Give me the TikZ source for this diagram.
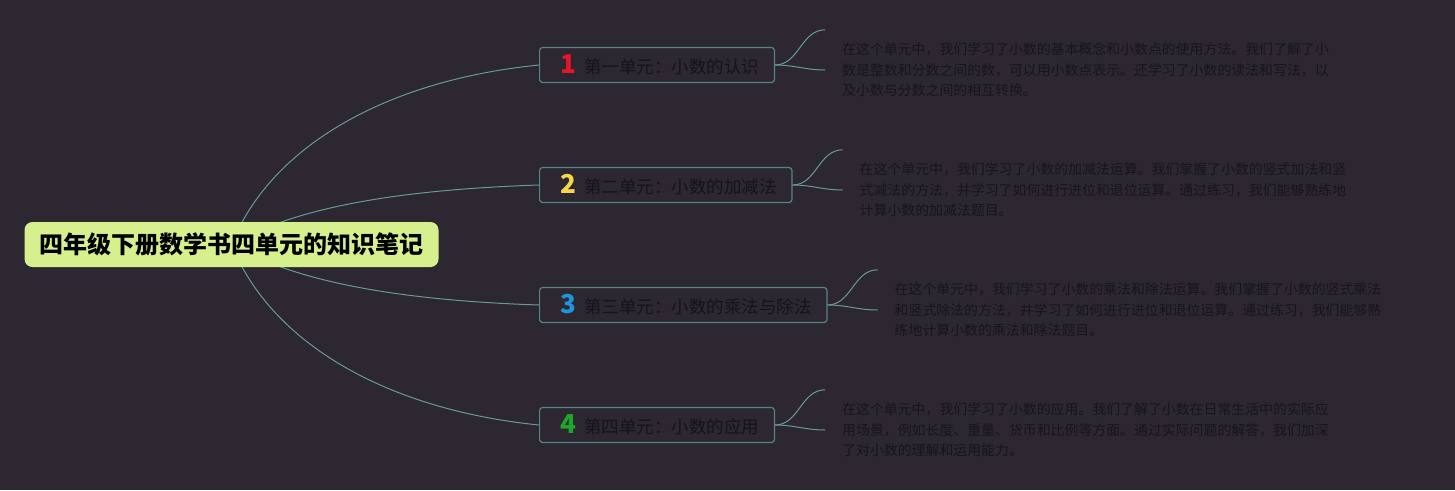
\documentclass[tikz,border=0pt]{standalone}
\usepackage{fontspec}
\setmainfont{Noto Sans CJK SC}
\usepackage{tikz}
\usetikzlibrary{positioning}

\definecolor{mapbg}{RGB}{44,39,49}
\definecolor{rootfill}{RGB}{214,240,142}
\definecolor{unitline}{RGB}{86,132,132}
\definecolor{linkcol}{RGB}{104,154,154}
\definecolor{unittext}{RGB}{22,20,24}
\definecolor{notetext}{RGB}{24,21,27}
\definecolor{numred}{RGB}{232,20,42}
\definecolor{numyellow}{RGB}{246,214,76}
\definecolor{numblue}{RGB}{30,150,222}
\definecolor{numgreen}{RGB}{30,168,42}

\newcommand\unitnum[2]{{\color{#1}\fontsize{26}{26}\selectfont\bfseries #2}}

\pgfdeclarelayer{bg}
\pgfdeclarelayer{edges}
\pgfsetlayers{bg,edges,main}

\begin{document}
\begin{tikzpicture}[x=1pt, y=-1pt,
    root/.style={fill=rootfill, rounded corners=8pt, minimum height=45pt, inner xsep=15pt, inner ysep=0pt,
      text height=22pt, text depth=4pt, font=\fontsize{24}{24}\selectfont\bfseries, text=black},
    unit/.style={draw=unitline, line width=1.2pt, rounded corners=3pt, fill=mapbg, anchor=west,
      minimum height=35pt, inner xsep=15pt, inner ysep=0pt, text height=18pt, text depth=2pt,
      font=\fontsize{17.5}{17.5}\selectfont, text=unittext},
    note/.style={align=left, minimum height=80pt, inner xsep=17pt, inner ysep=0pt,
      font=\fontsize{13.9}{20.5}\selectfont, text=notetext},
    link/.style={draw=linkcol, line width=1pt}
  ]
            \useasboundingbox (0,0) rectangle (1455,490);
            \begin{pgfonlayer}{bg}
                \fill[mapbg] (0,0) rectangle (1455,490);
            \end{pgfonlayer}

            \node [root] (root) at (231.5,244.5) {四年级下册数学书四单元的知识笔记};

            \node [unit] (u1) at (539,65) {\hspace{6pt}\unitnum{numred}{1}\hspace{8pt}第一单元：小数的认识};
            \node [unit] (u2) at (539,185) {\hspace{6pt}\unitnum{numyellow}{2}\hspace{8pt}第二单元：小数的加减法};
            \node [unit] (u3) at (539,305) {\hspace{6pt}\unitnum{numblue}{3}\hspace{8pt}第三单元：小数的乘法与除法};
            \node [unit] (u4) at (539,425) {\hspace{6pt}\unitnum{numgreen}{4}\hspace{8pt}第四单元：小数的应用};

            \node [note, right=50pt of u1, yshift=-5pt] (n1) {在这个单元中，我们学习了小数的基本概念和小数点的使用方法。我们了解了小\\数是整数和分数之间的数，可以用小数点表示。还学习了小数的读法和写法，以\\及小数与分数之间的相互转换。};
            \node [note, right=50pt of u2, yshift=-5pt] (n2) {在这个单元中，我们学习了小数的加减法运算。我们掌握了小数的竖式加法和竖\\式减法的方法，并学习了如何进行进位和退位运算。通过练习，我们能够熟练地\\计算小数的加减法题目。};
            \node [note, right=50pt of u3, yshift=-5pt] (n3) {在这个单元中，我们学习了小数的乘法和除法运算。我们掌握了小数的竖式乘法\\和竖式除法的方法，并学习了如何进行进位和退位运算。通过练习，我们能够熟\\练地计算小数的乘法和除法题目。};
            \node [note, right=50pt of u4, yshift=-5pt] (n4) {在这个单元中，我们学习了小数的应用。我们了解了小数在日常生活中的实际应\\用场景，例如长度、重量、货币和比例等方面。通过实际问题的解答，我们加深\\了对小数的理解和运用能力。};

            \begin{pgfonlayer}{edges}
                \draw [link] (root.center) .. controls +(40,-100) and +(-150,15) .. (u1.west);
                \draw [link] (root.center) .. controls +(60,-35) and +(-150,5) .. (u2.west);
                \draw [link] (root.center) .. controls +(60,35) and +(-150,-5) .. (u3.west);
                \draw [link] (root.center) .. controls +(40,100) and +(-150,-15) .. (u4.west);
                \foreach \i in {1,...,4} {
                    \draw [link] (u\i.east) to [out=0, in=180] (n\i.north west);
                    \draw [link] (u\i.east) to [out=0, in=180] (n\i.west);
                }
            \end{pgfonlayer}
        \end{tikzpicture}
\end{document}
